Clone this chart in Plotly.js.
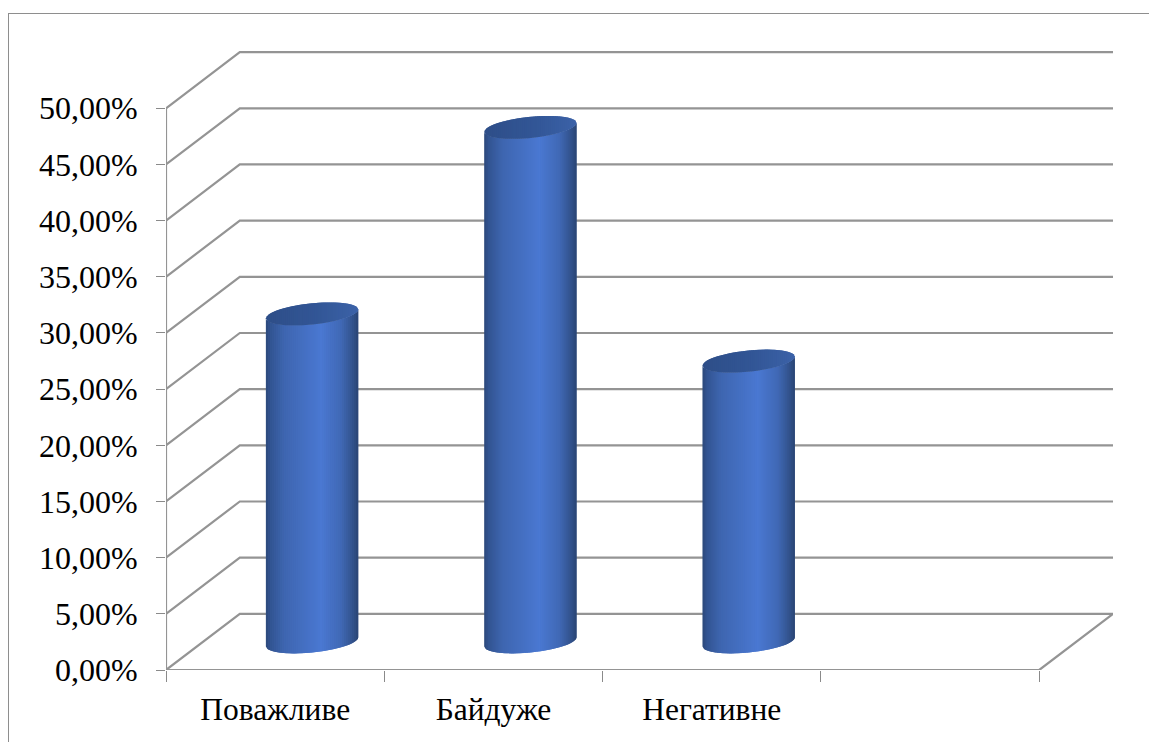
<!DOCTYPE html>
<html>
<head>
<meta charset="utf-8">
<script src="https://cdn.plot.ly/plotly-3.0.1.min.js"></script>
<style>
  html, body { margin: 0; padding: 0; background: #fff; overflow: hidden; }
  #chart { position: absolute; left: 0; top: 0; width: 1149px; height: 742px; }
  #frame { position: absolute; left: 8px; top: 13px; right: 0; bottom: 0;
           border-left: 1px solid #8e8e8e; border-top: 1px solid #8e8e8e; pointer-events: none; }
</style>
</head>
<body>
<div id="chart"></div>
<div id="frame"></div>
<script>
// Attitude categories and their shares, in percent
const categories = ['Поважливе', 'Байдуже', 'Негативне'];
const shares = [29.2, 45.8, 25.0];
const valueTicks = [0, 5, 10, 15, 20, 25, 30, 35, 40, 45, 50];
const valueLabels = ['0,00%', '5,00%', '10,00%', '15,00%', '20,00%', '25,00%',
                     '30,00%', '35,00%', '40,00%', '45,00%', '50,00%'];
const slotCount = 4;

// Oblique projection of the chart box, in axis units
const depthX = 0.338, depthY = 5;
const radiusX = 0.2115, tiltY = 0.40, radiusY = 0.94;
const stripsPerBar = 46;

// Cylinder shading across the bar width: [position, r, g, b]
const bodyStops = [
  [0.00, 44, 72, 122], [0.05, 50, 84, 146], [0.20, 62, 102, 176],
  [0.60, 74, 120, 210], [0.82, 64, 104, 180], [0.94, 50, 82, 140], [1.00, 42, 68, 116]
];
const capStops = [[0.00, 46, 78, 136], [0.55, 50, 86, 150], [1.00, 60, 98, 168]];
function shadeAt(stops, u) {
  let i = 0;
  while (i < stops.length - 2 && u > stops[i + 1][0]) i++;
  const a = stops[i], b = stops[i + 1];
  const k = (u - a[0]) / (b[0] - a[0]);
  const c = [1, 2, 3].map(j => Math.round(a[j] + (b[j] - a[j]) * k));
  return `rgb(${c[0]},${c[1]},${c[2]})`;
}

const gridColor = '#949494';
const traces = [];

function polyline(x, y, width, color) {
  traces.push({ x, y, type: 'scatter', mode: 'lines', hoverinfo: 'skip', showlegend: false,
                line: { color, width, simplify: false } });
}

// Back wall gridlines together with the side wall diagonals
valueTicks.forEach(v => {
  polyline([0, depthX, slotCount + depthX], [v, v + depthY, v + depthY], 2.2, gridColor);
});
// Value axis, category axis and the floor's right edge
polyline([0, 0], [0, 50], 2.2, gridColor);
polyline([0, slotCount, slotCount + depthX], [0, 0, depthY], 2.2, gridColor);

// Height of the lower (side = -1) or upper (side = 1) rim of an ellipse at offset u
function rimY(centerY, u, side) {
  const s = Math.sqrt(Math.max(0, 1 - u * u));
  return centerY + tiltY * u + side * radiusY * s;
}

// A filled patch spanning offsets u0..u1, bounded by two rim curves
function patch(cx, u0, u1, lowerAt, upperAt, color) {
  const n = 6, us = [];
  for (let k = 0; k <= n; k++) us.push(u0 + (u1 - u0) * k / n);
  const xs = us.map(u => cx + radiusX * u);
  traces.push({
    x: xs.concat(xs.slice().reverse()).concat([xs[0]]),
    y: us.map(lowerAt).concat(us.slice().reverse().map(upperAt)).concat([lowerAt(us[0])]),
    type: 'scatter', mode: 'lines', fill: 'toself', fillcolor: color,
    line: { width: 0 }, hoverinfo: 'skip', showlegend: false
  });
}

shares.forEach((share, i) => {
  const cx = i + 0.5 + depthX / 2;
  const y0 = depthY / 2;
  const y1 = share + depthY / 2;
  const step = 2 / stripsPerBar;
  // Strips overlap their right neighbour, so the shading shows no seams
  for (let s = 0; s < stripsPerBar; s++) {
    const u0 = -1 + s * step, u1 = Math.min(1, u0 + 2 * step);
    patch(cx, u0, u1, u => rimY(y0, u, -1), u => rimY(y1, u, -1),
          shadeAt(bodyStops, (s + 0.5) / stripsPerBar));
  }
  for (let s = 0; s < stripsPerBar; s++) {
    const u0 = -1 + s * step, u1 = Math.min(1, u0 + 2 * step);
    patch(cx, u0, u1, u => rimY(y1, u, -1), u => rimY(y1, u, 1),
          shadeAt(capStops, (s + 0.5) / stripsPerBar));
  }
});

const serif = '"Liberation Serif", "Times New Roman", serif';
const layout = {
  width: 1149, height: 742,
  margin: { l: 166, r: 36, t: 51, b: 71.5, pad: 0 },
  paper_bgcolor: '#ffffff', plot_bgcolor: '#ffffff',
  showlegend: false,
  xaxis: {
    type: 'linear', range: [0, slotCount + depthX], showgrid: false, zeroline: false, showline: false,
    tickmode: 'array', tickvals: categories.map((c, i) => i + 0.5), ticktext: categories,
    ticks: '', ticklabelstandoff: 17,
    tickfont: { family: serif, size: 31.5, color: '#000' },
    minor: { tickmode: 'array', tickvals: [0, 1, 2, 3, 4], ticks: 'outside', ticklen: 11,
             tickwidth: 1, tickcolor: '#8a8a8a', showgrid: false }
  },
  yaxis: {
    range: [0, 55.1], showgrid: false, zeroline: false, showline: false,
    tickmode: 'array', tickvals: valueTicks, ticktext: valueLabels,
    ticks: 'outside', ticklen: 9, tickwidth: 1, tickcolor: '#8a8a8a', ticklabelstandoff: 12,
    tickfont: { family: serif, size: 32, color: '#000' }
  }
};

Plotly.newPlot('chart', traces, layout, { displayModeBar: false, staticPlot: true });
</script>
</body>
</html>
